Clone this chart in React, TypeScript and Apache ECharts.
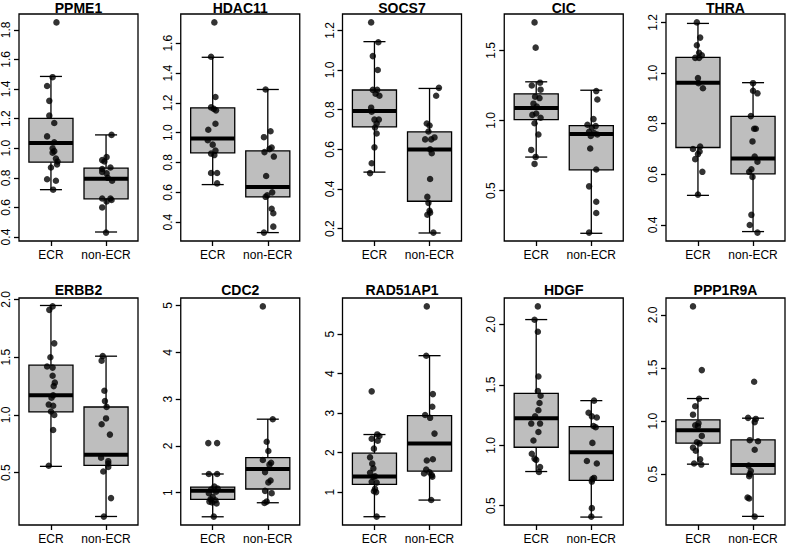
import { useEffect, useRef } from "react";
import * as echarts from "echarts";

const genes = ["PPME1", "HDAC11", "SOCS7", "CIC", "THRA", "ERBB2", "CDC2", "RAD51AP1", "HDGF", "PPP1R9A"];
const groups = ["ECR", "non-ECR"];

const yTickLabels: string[][] = [
  ["0.4", "0.6", "0.8", "1.0", "1.2", "1.4", "1.6", "1.8"],
  ["0.4", "0.6", "0.8", "1.0", "1.2", "1.4", "1.6"],
  ["0.2", "0.4", "0.6", "0.8", "1.0", "1.2"],
  ["0.5", "1.0", "1.5"],
  ["0.4", "0.6", "0.8", "1.0", "1.2"],
  ["0.5", "1.0", "1.5", "2.0"],
  ["1", "2", "3", "4", "5"],
  ["1", "2", "3", "4", "5"],
  ["0.5", "1.0", "1.5", "2.0"],
  ["0.5", "1.0", "1.5", "2.0"],
];

// [lower whisker, Q1, median, Q3, upper whisker]
const ecrBox: number[][] = [
  [0.72, 0.906, 1.036, 1.202, 1.485],
  [0.652, 0.865, 0.961, 1.167, 1.506],
  [0.485, 0.713, 0.793, 0.899, 1.143],
  [0.739, 1.006, 1.09, 1.19, 1.276],
  [0.517, 0.706, 0.962, 1.062, 1.196],
  [0.555, 1.026, 1.171, 1.431, 1.948],
  [0.486, 0.857, 1.04, 1.12, 1.4],
  [0.377, 1.194, 1.396, 1.985, 2.457],
  [0.783, 0.984, 1.224, 1.43, 2.041],
  [0.594, 0.792, 0.914, 1.012, 1.212],
];
const nonBox: number[][] = [
  [0.434, 0.658, 0.793, 0.865, 1.09],
  [0.33, 0.569, 0.636, 0.878, 1.29],
  [0.178, 0.338, 0.599, 0.688, 0.907],
  [0.195, 0.648, 0.903, 0.963, 1.216],
  [0.374, 0.602, 0.663, 0.829, 0.962],
  [0.121, 0.564, 0.656, 1.069, 1.509],
  [0.786, 1.079, 1.507, 1.75, 2.571],
  [0.798, 1.531, 2.229, 2.937, 4.453],
  [0.406, 0.709, 0.943, 1.155, 1.37],
  [0.102, 0.5, 0.585, 0.823, 1.027],
];

const ecrValues: number[][] = [
  [1.85, 1.48, 1.42, 1.32, 1.22, 1.17, 1.08, 1.04, 1.0, 0.98, 0.97, 0.93, 0.91, 0.89, 0.87, 0.79, 0.78, 0.72],
  [1.74, 1.51, 1.24, 1.17, 1.16, 1.15, 1.06, 1.02, 0.95, 0.92, 0.88, 0.86, 0.85, 0.73, 0.73, 0.66],
  [1.24, 1.14, 1.07, 1.0, 0.9, 0.9, 0.88, 0.87, 0.81, 0.79, 0.75, 0.75, 0.73, 0.71, 0.68, 0.61, 0.53, 0.48],
  [1.7, 1.52, 1.27, 1.25, 1.22, 1.17, 1.16, 1.12, 1.1, 1.05, 1.04, 1.02, 0.98, 0.9, 0.79, 0.74, 0.69],
  [1.2, 1.14, 1.11, 1.08, 1.07, 1.06, 1.06, 0.98, 0.96, 0.94, 0.71, 0.7, 0.69, 0.68, 0.66, 0.61, 0.52],
  [1.94, 1.91, 1.62, 1.5, 1.42, 1.41, 1.34, 1.28, 1.25, 1.17, 1.15, 1.09, 1.08, 1.03, 1.0, 0.87, 0.56],
  [2.06, 2.06, 1.4, 1.4, 1.13, 1.09, 1.07, 1.02, 0.99, 0.91, 0.86, 0.84, 0.81, 0.79, 0.77, 0.49],
  [3.55, 2.46, 2.42, 2.35, 2.3, 2.1, 1.88, 1.72, 1.6, 1.49, 1.4, 1.38, 1.26, 1.24, 1.08, 1.02, 1.0, 0.38],
  [2.15, 2.04, 1.94, 1.57, 1.45, 1.41, 1.35, 1.29, 1.24, 1.18, 1.18, 1.11, 1.04, 0.93, 0.89, 0.88, 0.82, 0.78],
  [2.08, 1.48, 1.21, 1.14, 1.06, 0.98, 0.96, 0.95, 0.86, 0.8, 0.79, 0.75, 0.72, 0.64, 0.6, 0.59],
];
const ecrJitter: number[][] = [
  [0.1, 0.03, -0.07, -0.03, -0.03, 0.06, -0.07, 0.06, 0.03, 0.06, 0.03, 0.09, 0.12, 0.11, 0, -0.07, 0.09, 0.04],
  [0.03, -0.03, 0.05, -0.03, 0.02, 0.06, 0.05, -0.08, -0.09, 0, 0.05, -0.03, 0.03, -0.03, 0.08, 0.08],
  [-0.06, 0.07, -0.03, 0.06, -0.03, 0.05, 0.02, 0.09, -0.06, -0.05, 0.08, 0, 0.04, 0.01, 0.04, 0, -0.05, -0.08],
  [-0.03, -0.01, 0.07, -0.08, 0.08, -0.02, 0.06, -0.05, 0.01, 0, -0.07, 0.08, -0.03, 0.04, -0.09, -0.01, -0.03],
  [-0.02, 0.04, -0.02, 0.02, 0.07, -0.05, 0.02, 0, 0.01, 0.09, 0.04, -0.09, 0.03, 0, -0.05, 0.08, 0],
  [0.03, -0.03, 0.06, -0.01, -0.07, 0.03, 0.03, 0.07, 0.05, 0.04, 0.01, -0.04, 0.04, 0, 0.06, 0.04, -0.04],
  [-0.08, 0.08, -0.07, 0.08, 0.03, 0.09, -0.03, 0.06, -0.07, 0, -0.04, 0.05, -0.06, -0.01, 0.07, 0.02],
  [-0.05, 0.05, 0.09, -0.05, 0.06, -0.01, -0.08, -0.04, -0.02, -0.08, 0.01, -0.02, -0.05, 0.04, 0.01, -0.01, 0.03, 0.04],
  [0.03, -0.03, 0.03, 0.04, 0.03, 0.08, 0.06, 0.04, -0.02, -0.09, 0.07, 0.04, -0.05, -0.08, -0.03, 0, 0.07, 0.05],
  [-0.09, 0.07, 0.02, -0.05, -0.09, 0.01, -0.05, 0, 0.07, -0.02, 0.03, -0.09, -0.04, 0.04, -0.07, 0.06],
];

const nonValues: number[][] = [
  [1.09, 0.94, 0.92, 0.91, 0.87, 0.86, 0.84, 0.83, 0.8, 0.78, 0.66, 0.66, 0.65, 0.64, 0.6, 0.43],
  [1.29, 1.01, 0.97, 0.9, 0.89, 0.87, 0.84, 0.71, 0.6, 0.58, 0.57, 0.49, 0.46, 0.37, 0.33],
  [0.91, 0.87, 0.73, 0.72, 0.69, 0.66, 0.65, 0.65, 0.6, 0.58, 0.45, 0.36, 0.33, 0.29, 0.28, 0.27, 0.18],
  [1.21, 1.15, 1.01, 0.97, 0.96, 0.95, 0.92, 0.91, 0.9, 0.89, 0.8, 0.65, 0.53, 0.42, 0.34, 0.2],
  [0.96, 0.93, 0.92, 0.83, 0.78, 0.78, 0.73, 0.67, 0.65, 0.62, 0.61, 0.59, 0.44, 0.4, 0.37],
  [1.51, 1.47, 1.21, 1.12, 1.07, 0.97, 0.92, 0.83, 0.63, 0.6, 0.58, 0.55, 0.51, 0.28, 0.12],
  [4.98, 2.57, 2.09, 1.89, 1.7, 1.64, 1.6, 1.44, 1.26, 1.22, 1.04, 0.99, 0.81, 0.78],
  [5.7, 4.45, 3.48, 3.16, 2.95, 2.88, 2.48, 1.83, 1.8, 1.57, 1.5, 1.47, 1.43, 1.39, 0.8],
  [1.37, 1.27, 1.24, 1.23, 1.16, 1.15, 1.02, 0.87, 0.85, 0.73, 0.72, 0.7, 0.48, 0.41],
  [1.37, 1.03, 1.02, 0.99, 0.82, 0.81, 0.73, 0.58, 0.53, 0.5, 0.48, 0.28, 0.27, 0.1],
];
const nonJitter: number[][] = [
  [0.1, 0.01, -0.07, -0.03, 0.08, -0.07, -0.07, 0.01, 0.03, 0.11, -0.07, 0.08, 0.1, 0.01, -0.07, 0],
  [-0.04, 0.05, -0.07, 0.07, 0.03, -0.06, 0.11, -0.03, 0.08, -0.01, -0.04, 0.07, 0.1, 0.1, -0.07],
  [0.17, 0.12, -0.05, 0, -0.02, 0.09, -0.08, 0.03, 0.01, 0.04, 0.01, -0.04, -0.02, 0, 0.01, -0.04, 0.07],
  [0.09, 0.11, 0.04, -0.07, 0.08, 0.01, -0.04, 0.05, 0.11, -0.01, -0.02, 0.09, -0.04, 0.09, 0.09, -0.04],
  [0, 0, 0.08, -0.04, 0.02, 0.05, -0.01, 0.03, 0.08, -0.03, -0.07, -0.01, -0.03, -0.06, 0.08],
  [-0.06, -0.08, -0.03, -0.02, 0.01, 0, -0.08, 0.07, -0.09, 0.04, 0.04, 0.04, -0.05, 0.09, -0.04],
  [-0.09, 0.09, -0.02, 0.01, -0.09, 0.06, 0.03, -0.05, 0.05, 0.01, -0.05, 0.07, -0.02, -0.06],
  [-0.05, -0.06, 0.06, 0.05, -0.08, 0.01, 0.09, 0.06, -0.05, -0.06, 0, -0.1, 0.04, 0.05, 0.03],
  [0.05, -0.05, 0.01, 0.1, 0.04, 0.08, 0.02, -0.08, 0.1, 0.05, 0.02, 0.01, 0.01, 0],
  [0.02, -0.09, 0.05, 0.03, -0.06, 0.09, 0.03, -0.08, -0.04, -0.06, -0.07, -0.1, -0.07, 0.03],
];

const FONT = '"Liberation Sans", Arial, Helvetica, sans-serif';
const LW = 1.3;

const renderBox = (_params: any, api: any) => {
  const x = api.value(0);
  const lo = api.value(1), q1 = api.value(2), md = api.value(3), q3 = api.value(4), hi = api.value(5);
  const P = (a: number, b: number) => api.coord([a, b]);
  const ln = (a: number[], b: number[], w = LW) => ({
    type: "line",
    shape: { x1: a[0], y1: a[1], x2: b[0], y2: b[1] },
    style: { stroke: "#000", lineWidth: w },
  });
  const tl = P(x - 0.4, q3);
  const br = P(x + 0.4, q1);
  return {
    type: "group",
    children: [
      ln(P(x, hi), P(x, q3)),
      ln(P(x, q1), P(x, lo)),
      ln(P(x - 0.2, hi), P(x + 0.2, hi)),
      ln(P(x - 0.2, lo), P(x + 0.2, lo)),
      {
        type: "rect",
        shape: { x: tl[0], y: tl[1], width: br[0] - tl[0], height: br[1] - tl[1] },
        style: { fill: "#BEBEBE", stroke: "#000", lineWidth: LW },
      },
      ln(P(x - 0.4, md), P(x + 0.4, md), 4),
    ],
  };
};

export default function App() {
  const ref = useRef<HTMLDivElement>(null);
  useEffect(() => {
    const chart = echarts.init(ref.current!, null, { renderer: "svg" });
    const grids: any[] = [];
    const xAxes: any[] = [];
    const yAxes: any[] = [];
    const series: any[] = [];
    const graphics: any[] = [];
    const tickStyle = { color: "#000", width: LW };
    genes.forEach((gene, i) => {
      const col = i % 5;
      const row = Math.floor(i / 5);
      const left = 19 + col * 161.75;
      const top = row === 0 ? 14 : 298;
      const width = 119;
      const height = 227;
      grids.push({
        left, top, width, height, show: true,
        borderColor: "#000", borderWidth: LW, backgroundColor: "transparent",
      });
      xAxes.push({
        type: "value", gridIndex: i, min: -0.58, max: 1.58, position: "bottom",
        axisLine: { show: false, onZero: false }, splitLine: { show: false },
        axisTick: { show: true, customValues: [0, 1], length: 5, lineStyle: tickStyle },
        axisLabel: {
          customValues: [0, 1],
          formatter: (v: number) => groups[Math.round(v)] ?? "",
          color: "#000", fontSize: 12, fontFamily: FONT, margin: 8,
        },
      });
      const all = [...ecrValues[i], ...nonValues[i]];
      const lo = Math.min(...all);
      const hi = Math.max(...all);
      const pad = (hi - lo) * 0.04;
      const ticks = yTickLabels[i];
      const tickVals = ticks.map(Number);
      yAxes.push({
        type: "value", gridIndex: i, min: lo - pad, max: hi + pad, position: "left",
        axisLine: { show: false, onZero: false }, splitLine: { show: false },
        axisTick: { show: true, customValues: tickVals, length: 5, lineStyle: tickStyle },
        axisLabel: {
          customValues: tickVals,
          formatter: (v: number) => {
            const k = tickVals.findIndex((t) => Math.abs(t - v) < 1e-9);
            return k >= 0 ? ticks[k] : "";
          },
          rotate: 90, margin: 7, color: "#000", fontSize: 12, fontFamily: FONT,
        },
      });
      series.push({
        type: "custom", xAxisIndex: i, yAxisIndex: i, z: 2, silent: true,
        data: [[0, ...ecrBox[i]], [1, ...nonBox[i]]],
        encode: { x: 0, y: [1, 2, 3, 4, 5] },
        renderItem: renderBox,
      });
      series.push({
        type: "scatter", xAxisIndex: i, yAxisIndex: i, z: 3, silent: true,
        symbolSize: 6.5,
        itemStyle: { color: "#000" },
        data: ecrValues[i]
          .map((v, k) => [ecrJitter[i][k], v])
          .concat(nonValues[i].map((v, k) => [1 + nonJitter[i][k], v])),
      });
      graphics.push({
        type: "text",
        x: left + width / 2,
        y: row === 0 ? 8 : 290,
        style: {
          text: gene, fill: "#000",
          font: `bold 14px ${FONT}`,
          textAlign: "center", textVerticalAlign: "middle",
          align: "center", verticalAlign: "middle",
        },
      });
    });
    chart.setOption({
      animation: false,
      backgroundColor: "#fff",
      grid: grids,
      xAxis: xAxes,
      yAxis: yAxes,
      series,
      graphic: graphics,
    });
    return () => chart.dispose();
  }, []);
  return <div ref={ref} style={{ position: "absolute", left: 0, top: 0, width: 787, height: 545 }} />;
}
